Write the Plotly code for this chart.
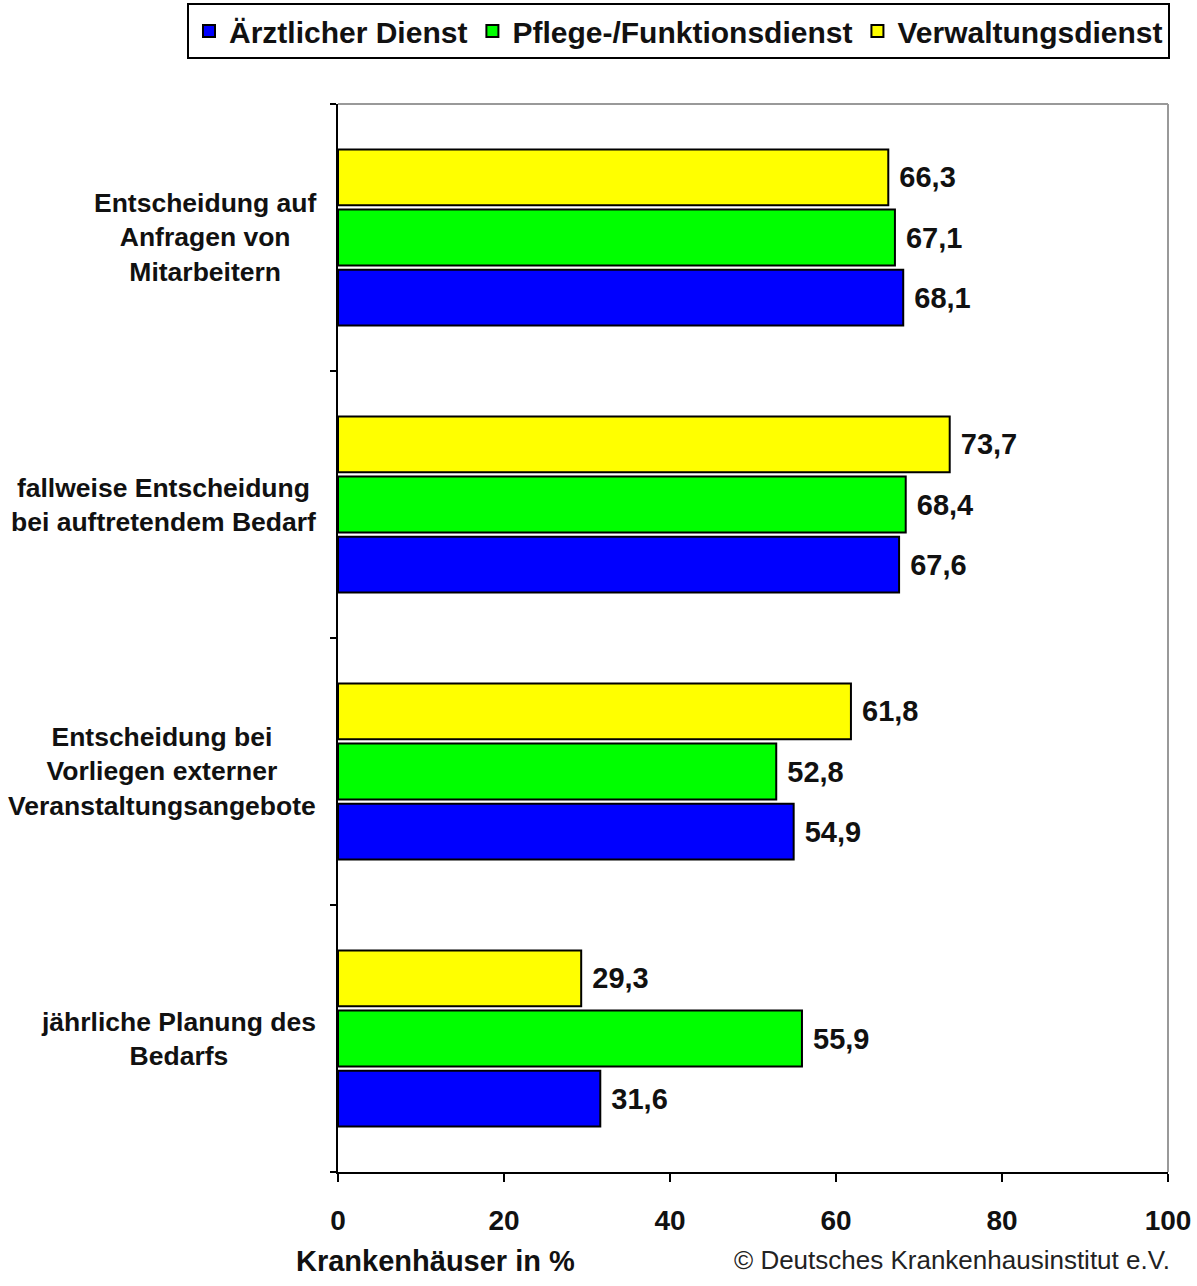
import plotly.graph_objects as go

# Categories listed top to bottom as they appear on the chart
categories = [
    "Entscheidung auf<br>Anfragen von<br>Mitarbeitern",
    "fallweise Entscheidung<br>bei auftretendem Bedarf",
    "Entscheidung bei<br>Vorliegen externer<br>Veranstaltungsangebote",
    "jährliche Planung des<br>Bedarfs",
]

series_names = ["Ärztlicher Dienst", "Pflege-/Funktionsdienst", "Verwaltungsdienst"]
aerztlich = [68.1, 67.6, 54.9, 31.6]
pflege = [67.1, 68.4, 52.8, 55.9]
verwaltung = [66.3, 73.7, 61.8, 29.3]
series_colors = ["#0000FF", "#00FF00", "#FFFF00"]

x_ticks = [0, 20, 40, 60, 80, 100]
axis_title = "Krankenhäuser in %"
source_note = "© Deutsches Krankenhausinstitut e.V."

FONT = "Liberation Sans, Arial, sans-serif"

# Plotly stacks categories from bottom to top, so feed them reversed
cats_bottom_up = categories[::-1]

fig = go.Figure()
for name, vals, color in zip(series_names, [aerztlich, pflege, verwaltung], series_colors):
    fig.add_trace(go.Bar(
        name=name,
        y=cats_bottom_up,
        x=vals[::-1],
        orientation="h",
        marker=dict(color=color, line=dict(color="#000000", width=2)),
        texttemplate="\u00a0%{x:.1f}",
        textposition="outside",
        textfont=dict(family=FONT, size=29, color="#111111", weight="bold"),
        constraintext="none",
        cliponaxis=False,
    ))

# Category labels with centred lines, placed left of the axis
annotations = []
for cat in categories:
    annotations.append(dict(
        x=0, xref="paper", y=cat, yref="y",
        text=cat, showarrow=False,
        xanchor="right", yanchor="middle", xshift=-20, align="center",
        font=dict(family=FONT, size=26.5, color="#111111", weight="bold"),
    ))

annotations.append(dict(
    x=0.117, xref="paper", y=-0.1002, yref="paper",
    text=axis_title, showarrow=False, xanchor="center", yanchor="bottom",
    font=dict(family=FONT, size=29, color="#111111", weight="bold"),
))
annotations.append(dict(
    x=1.0048, xref="paper", y=-0.0983, yref="paper",
    text=source_note, showarrow=False, xanchor="right", yanchor="bottom",
    font=dict(family=FONT, size=26, color="#222222"),
))

fig.update_layout(
    width=1197, height=1286,
    margin=dict(l=338, r=29, t=104, b=114, autoexpand=False),
    paper_bgcolor="white", plot_bgcolor="white",
    barmode="group", bargap=0.325, bargroupgap=0.07,
    separators=",.",
    showlegend=True,
    legend=dict(
        orientation="h",
        # anchored left of the plot area so the single row may span the left margin
        xref="paper", x=(187 - 338) / 830, xanchor="left",
        yref="paper", y=1.0946, yanchor="top",
        bordercolor="#000000", borderwidth=2, bgcolor="white",
        font=dict(family=FONT, size=30, color="#111111", weight="bold"),
        traceorder="normal", itemwidth=30,
    ),
    annotations=annotations,
    shapes=[
        dict(type="line", xref="paper", yref="paper", x0=0, x1=1, y0=1, y1=1,
             line=dict(color="#999999", width=2), layer="below"),
        dict(type="line", xref="paper", yref="paper", x0=1, x1=1, y0=0, y1=1,
             line=dict(color="#999999", width=2), layer="below"),
    ],
    xaxis=dict(
        range=[0, 100], tickvals=x_ticks, ticktext=[str(t) for t in x_ticks],
        showgrid=False, zeroline=False,
        showline=True, linecolor="#000000", linewidth=2,
        ticks="outside", ticklen=8, tickwidth=2, tickcolor="#000000",
        ticklabelstandoff=14,
        tickfont=dict(family=FONT, size=28, color="#111111", weight="bold"),
    ),
    yaxis=dict(
        categoryorder="array", categoryarray=cats_bottom_up,
        showgrid=False, zeroline=False,
        showline=True, linecolor="#000000", linewidth=2,
        ticks="outside", tickson="boundaries", ticklen=6, tickwidth=2, tickcolor="#000000",
        showticklabels=False,
    ),
)

fig.write_html("out.html")
